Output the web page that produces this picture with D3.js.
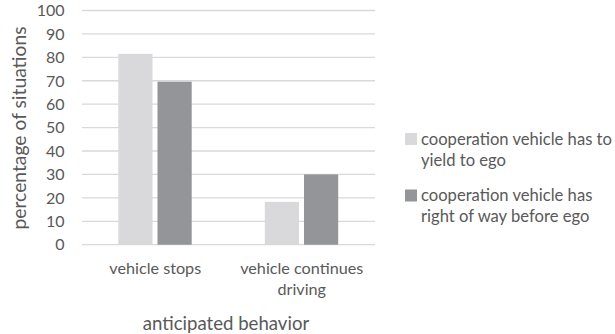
<!DOCTYPE html>
<html><head><meta charset="utf-8">
<script src="https://cdn.jsdelivr.net/npm/d3@7"></script>
<style>body{margin:0;background:#fff}svg{display:block}text{font-family:Lato,"Open Sans",sans-serif;fill:#595959}</style>
</head><body><svg id="c" width="615" height="334"></svg>
<script>
const categories = [["vehicle stops"], ["vehicle continues", "driving"]];
const seriesNames = [["cooperation vehicle has to", "yield to ego"], ["cooperation vehicle has", "right of way before ego"]];
const yieldValues = [81.5, 18.3];
const rightOfWayValues = [69.6, 30.0];
const yTicks = [0,10,20,30,40,50,60,70,80,90,100];
const colors = ["#d9d9db", "#939598"];

(function(){
const svg = d3.select("#c");
const pl = 82, pr = 375, pt = 10.5, pb = 244.7;
const y = d3.scaleLinear().domain([0,100]).range([pb, pt]);
const x0 = d3.scaleBand().domain(d3.range(categories.length)).range([pl, pr]);
const x1 = d3.scaleBand().domain([0,1]).range([36.3, 36.3+73.4]).paddingInner(0.128);

svg.append("g").selectAll("line").data(yTicks).join("line")
  .attr("x1", pl).attr("x2", pr).attr("y1", d=>y(d)).attr("y2", d=>y(d))
  .attr("stroke", "#d9d9d9").attr("stroke-width", 1.3);

svg.append("g").selectAll("text").data(yTicks).join("text")
  .attr("x", 64.5).attr("y", d=>y(d)).attr("dy", "0.36em").attr("text-anchor", "end")
  .attr("font-size", 16).text(d=>d);

const series = [yieldValues, rightOfWayValues];
series.forEach((vals, si) => {
  svg.append("g").selectAll("rect").data(vals).join("rect")
    .attr("x", (d,i)=>x0(i)+x1(si)).attr("width", x1.bandwidth())
    .attr("y", d=>y(d)).attr("height", d=>y(0)-y(d)).attr("fill", colors[si]);
});

categories.forEach((lines, i) => {
  const cx = x0(i)+x0.bandwidth()/2;
  const t = svg.append("text").attr("text-anchor", "middle").attr("font-size", 16.2)
    .attr("x", cx).attr("y", 273.5);
  lines.forEach((l, k) => t.append("tspan").attr("x", cx).attr("dy", k?21:0).text(l));
});

svg.append("text").attr("text-anchor","middle").attr("font-size",18.6)
  .attr("x", 226).attr("y", 329.5).text("anticipated behavior");
svg.append("text").attr("text-anchor","middle").attr("font-size",19.3)
  .attr("transform","translate(25.5,128) rotate(-90)").text("percentage of situations");

seriesNames.forEach((lines, si) => {
  const gy = [133, 189.5][si];
  svg.append("rect").attr("x", 405).attr("y", gy).attr("width", 12).attr("height", 12).attr("fill", colors[si]);
  const t = svg.append("text").attr("font-size", 16.6).attr("x", 421).attr("y", gy+11.5);
  lines.forEach((l,k)=>t.append("tspan").attr("x",421).attr("dy",k?21:0).text(l));
});
})();
</script></body></html>
